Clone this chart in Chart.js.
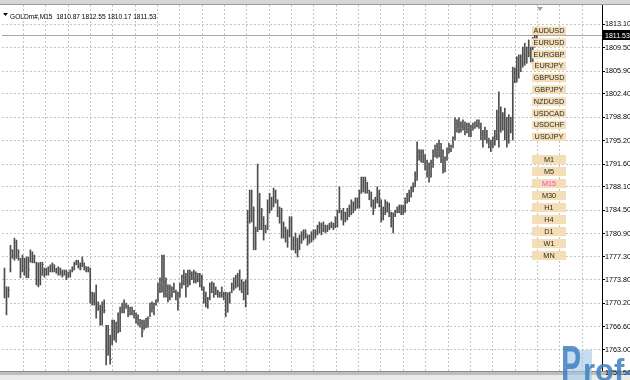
<!DOCTYPE html>
<html><head><meta charset="utf-8">
<script src="https://cdn.jsdelivr.net/npm/chart.js@4.4.1/dist/chart.umd.min.js"></script>
<style>html,body{margin:0;padding:0;background:#fff;overflow:hidden}#wrap{width:630px;height:380px;position:relative}</style>
</head><body><div id="wrap"><canvas id="c" width="630" height="380"></canvas></div>
<script>
const symbolName = 'GOLDm#';
const timeframe = 'M15';
const priceTicks = [1813.10,1809.50,1805.90,1802.40,1798.80,1795.20,1791.60,1788.10,1784.50,1780.90,1777.30,1773.80,1770.20,1766.60,1763.00,1759.50];
const symbols = ['AUDUSD','EURUSD','EURGBP','EURJPY','GBPUSD','GBPJPY','NZDUSD','USDCAD','USDCHF','USDJPY'];
const timeframes = ['M1','M5','M15','M30','H1','H4','D1','W1','MN'];

const highs = [1775.6,1772.7,1772.7,1779.1,1778.4,1780.2,1779.9,1778.4,1777.1,1777.6,
1777.1,1777.3,1777.3,1778.4,1778.1,1777.6,1776.5,1776.4,1776.5,1776.5,
1775.6,1775.6,1775.8,1776.1,1776.4,1776.1,1775.6,1775.8,1775.6,1775.3,
1775.3,1775.3,1775.0,1775.3,1775.8,1776.5,1776.8,1776.8,1776.4,1777.3,
1776.4,1775.8,1775.8,1775.6,1771.9,1771.8,1773.0,1770.4,1769.9,1770.4,
1770.7,1766.8,1766.8,1765.3,1767.6,1767.6,1767.3,1768.7,1769.6,1770.2,
1770.7,1770.2,1769.9,1769.6,1769.6,1769.1,1768.7,1768.4,1767.7,1767.6,
1767.6,1767.9,1768.1,1770.2,1770.4,1770.2,1770.7,1773.3,1774.1,1777.6,
1777.6,1774.1,1773.0,1773.0,1772.7,1773.3,1772.2,1771.9,1773.3,1774.5,
1775.3,1774.8,1775.3,1775.3,1775.0,1775.3,1775.0,1774.8,1774.8,1774.5,
1772.7,1771.9,1771.1,1773.3,1773.5,1773.3,1772.7,1772.2,1771.9,1772.7,
1771.9,1771.9,1771.8,1771.9,1773.3,1774.1,1774.5,1774.8,1775.3,1773.8,
1773.5,1773.8,1784.5,1787.6,1787.6,1785.0,1781.9,1791.6,1787.1,1784.8,
1783.5,1782.2,1786.1,1787.1,1786.5,1787.9,1787.6,1786.1,1785.0,1784.8,
1782.7,1781.9,1781.5,1783.5,1783.5,1780.4,1781.0,1780.2,1780.7,1781.2,
1781.5,1781.5,1780.7,1780.7,1781.2,1781.5,1781.5,1782.2,1782.7,1782.5,
1782.7,1782.2,1782.2,1782.5,1782.7,1782.5,1783.5,1784.5,1788.1,1784.5,
1784.8,1784.2,1784.8,1785.3,1786.1,1785.8,1786.4,1786.4,1787.6,1789.6,
1789.6,1789.6,1788.8,1787.6,1787.3,1786.1,1786.5,1788.1,1787.6,1786.1,
1785.0,1786.1,1785.8,1785.6,1784.2,1784.1,1784.5,1785.0,1785.3,1785.3,
1785.3,1786.4,1787.1,1787.6,1788.1,1788.7,1790.4,1795.0,1793.8,1793.8,
1793.8,1793.0,1792.2,1791.8,1792.2,1793.8,1794.5,1794.8,1795.3,1794.8,
1793.8,1792.7,1794.1,1794.8,1794.5,1795.8,1798.7,1798.4,1798.7,1798.1,
1798.4,1798.1,1797.9,1797.9,1797.6,1797.9,1798.1,1798.4,1798.4,1797.9,
1796.8,1797.3,1796.8,1795.6,1795.3,1795.8,1796.8,1799.9,1802.7,1800.4,
1799.5,1800.2,1798.8,1799.2,1798.8,1806.5,1806.4,1808.1,1808.4,1808.4,
1809.6,1810.2,1809.6,1810.7,1809.6,1811.1,1811.9,1812.55];

const lows = [1771.0,1768.4,1771.1,1775.0,1777.1,1776.8,1777.1,1776.8,1774.1,1775.0,
1774.5,1774.1,1774.1,1776.5,1776.4,1776.4,1773.0,1772.7,1773.0,1774.5,
1774.2,1774.5,1774.5,1775.0,1775.0,1775.0,1774.8,1774.5,1774.5,1774.2,
1774.5,1773.8,1774.2,1774.2,1775.0,1775.3,1776.1,1775.6,1775.3,1775.8,
1775.3,1775.0,1775.0,1770.2,1769.9,1769.9,1767.9,1769.1,1766.8,1766.8,
1768.7,1760.7,1762.2,1760.8,1763.8,1764.5,1764.2,1765.6,1765.8,1768.7,
1768.7,1769.4,1768.1,1768.4,1768.4,1767.9,1767.1,1766.8,1766.5,1765.0,
1766.1,1766.4,1766.5,1768.1,1768.8,1768.4,1769.9,1770.4,1771.8,1771.9,
1771.1,1771.1,1770.4,1770.7,1771.1,1771.8,1770.7,1769.1,1771.1,1772.5,
1773.0,1771.1,1772.7,1773.0,1773.8,1773.3,1773.3,1773.5,1772.7,1772.2,
1770.2,1769.6,1769.4,1770.7,1771.8,1771.1,1771.5,1771.1,1771.1,1771.1,
1770.7,1768.1,1768.8,1770.2,1771.8,1772.2,1772.5,1772.7,1772.2,1771.8,
1770.7,1769.6,1771.5,1782.5,1782.7,1778.4,1778.4,1781.2,1781.5,1781.5,
1779.9,1781.0,1781.5,1784.1,1784.5,1785.0,1785.6,1783.5,1782.5,1780.2,
1780.2,1779.6,1778.8,1780.4,1778.4,1778.4,1777.9,1777.3,1778.4,1779.4,
1779.9,1780.2,1779.1,1779.4,1779.6,1779.9,1780.2,1780.7,1781.0,1780.7,
1781.2,1781.0,1781.2,1781.5,1781.8,1781.5,1781.8,1781.9,1784.1,1783.0,
1782.2,1782.7,1783.0,1783.5,1783.8,1784.1,1784.5,1784.8,1784.8,1787.1,
1787.3,1787.1,1787.1,1786.1,1785.0,1783.8,1784.8,1785.6,1785.0,1782.7,
1783.0,1783.8,1784.2,1783.5,1781.9,1781.0,1783.5,1784.1,1784.1,1783.8,
1783.8,1784.2,1785.6,1785.8,1786.5,1787.3,1788.1,1789.1,1792.2,1791.9,
1791.8,1790.7,1789.6,1788.8,1789.6,1791.1,1792.7,1792.5,1792.7,1791.8,
1790.2,1790.4,1792.2,1793.3,1793.5,1794.1,1795.3,1796.5,1796.4,1796.5,
1796.8,1796.1,1796.4,1795.8,1795.8,1796.8,1797.1,1797.3,1797.1,1795.3,
1794.2,1795.3,1794.8,1794.1,1793.5,1794.1,1794.5,1795.3,1794.2,1796.5,
1796.8,1795.3,1794.2,1794.8,1796.4,1795.3,1804.1,1804.2,1804.8,1805.8,
1806.5,1806.8,1807.1,1808.1,1807.3,1807.1,1809.6,1810.17];

const opens = [1773.8,1772.2,1771.5,1775.3,1778.1,1777.6,1779.6,1778.4,1777.1,1775.3,
1776.5,1775.6,1776.5,1776.8,1777.9,1777.1,1776.4,1773.8,1775.6,1774.8,
1775.6,1774.8,1775.3,1775.6,1775.8,1776.1,1775.3,1775.0,1775.6,1774.8,
1774.5,1775.0,1774.2,1774.8,1775.3,1775.6,1776.4,1776.5,1776.1,1775.8,
1776.4,1775.8,1775.3,1775.6,1771.0,1770.2,1771.1,1769.4,1769.9,1767.6,
1769.9,1766.4,1763.0,1764.5,1764.5,1766.8,1766.1,1766.8,1768.1,1769.1,
1769.9,1770.2,1769.6,1768.7,1769.1,1768.8,1768.1,1767.6,1767.3,1766.8,
1766.1,1767.3,1766.8,1768.4,1769.9,1769.1,1769.9,1770.7,1772.7,1773.3,
1773.0,1773.8,1771.9,1772.2,1771.9,1772.2,1772.2,1771.1,1771.1,1772.7,
1773.8,1774.5,1773.0,1774.5,1774.1,1774.5,1774.1,1774.5,1774.1,1773.3,
1772.5,1771.0,1770.4,1770.7,1772.7,1772.2,1771.9,1772.2,1771.5,1771.8,
1771.9,1771.1,1769.1,1771.0,1771.9,1773.0,1773.8,1773.3,1774.2,1773.0,
1772.7,1771.5,1772.2,1783.8,1786.1,1784.5,1779.9,1781.2,1786.1,1782.7,
1783.5,1781.2,1781.8,1785.3,1786.4,1785.3,1787.3,1785.8,1784.2,1783.3,
1781.5,1781.9,1780.4,1780.7,1782.7,1779.9,1779.1,1779.9,1778.4,1779.9,
1780.7,1781.0,1780.4,1779.6,1780.4,1780.7,1781.2,1781.0,1781.8,1782.2,
1781.5,1782.2,1781.5,1781.9,1782.2,1782.5,1781.9,1783.0,1784.2,1784.5,
1783.5,1784.2,1783.3,1784.5,1785.0,1785.6,1785.0,1785.8,1786.1,1787.3,
1788.8,1787.9,1788.8,1787.6,1786.5,1785.6,1784.8,1786.1,1787.6,1786.1,
1783.8,1784.5,1785.3,1784.8,1784.1,1782.7,1783.8,1784.2,1784.8,1784.5,
1785.0,1784.5,1786.1,1786.5,1787.3,1787.6,1788.4,1789.6,1793.8,1793.0,
1792.5,1792.7,1791.5,1790.4,1789.9,1791.5,1793.0,1794.1,1793.5,1794.5,
1792.5,1791.5,1792.5,1793.5,1794.2,1794.2,1795.3,1797.6,1797.1,1798.1,
1797.1,1797.9,1796.8,1797.3,1796.4,1797.1,1797.6,1797.9,1798.1,1797.6,
1795.8,1795.3,1796.5,1795.3,1794.5,1794.1,1795.3,1796.4,1799.2,1796.8,
1799.5,1797.6,1798.8,1795.3,1798.4,1796.5,1805.3,1804.5,1807.3,1806.1,
1807.9,1809.1,1807.6,1809.1,1809.6,1808.1,1810.2,1810.87];

const closes = [1772.2,1771.5,1772.2,1778.4,1777.6,1779.6,1778.4,1777.1,1775.3,1776.5,
1775.6,1776.8,1775.3,1777.9,1777.1,1776.5,1773.8,1775.6,1774.5,1776.1,
1774.8,1775.3,1775.6,1775.8,1776.1,1775.3,1775.0,1775.6,1774.8,1774.5,
1775.0,1774.2,1774.8,1775.3,1775.6,1776.4,1776.5,1776.1,1775.6,1776.8,
1775.8,1775.3,1775.6,1771.0,1770.2,1771.1,1769.1,1769.9,1767.6,1769.9,
1769.1,1762.2,1766.1,1761.5,1766.8,1766.1,1766.8,1768.1,1769.1,1769.9,
1770.2,1769.6,1768.7,1769.1,1768.8,1768.1,1767.6,1767.3,1766.8,1765.8,
1767.3,1766.8,1767.9,1769.9,1769.1,1769.9,1770.4,1772.7,1773.3,1773.0,
1773.8,1771.9,1772.2,1771.9,1772.2,1772.7,1771.1,1770.7,1772.7,1773.8,
1774.8,1773.0,1774.5,1774.1,1774.5,1774.1,1774.5,1774.1,1773.3,1772.5,
1771.0,1770.4,1770.7,1772.7,1772.2,1771.9,1772.2,1771.5,1771.8,1772.2,
1771.1,1769.1,1771.0,1771.5,1773.0,1773.8,1773.3,1774.2,1773.0,1772.7,
1771.5,1772.2,1783.8,1786.1,1784.5,1779.9,1781.2,1786.1,1782.7,1783.8,
1780.7,1781.8,1785.3,1786.4,1785.3,1787.3,1786.1,1784.2,1783.3,1781.5,
1781.9,1780.4,1779.6,1782.7,1779.9,1779.1,1779.9,1778.1,1779.9,1780.7,
1781.0,1780.7,1779.6,1780.4,1780.7,1781.2,1780.7,1781.8,1782.2,1781.5,
1782.2,1781.5,1781.9,1782.2,1782.5,1781.9,1783.0,1784.1,1784.8,1783.5,
1784.2,1783.3,1784.5,1785.0,1785.6,1785.0,1785.8,1786.1,1787.1,1788.8,
1787.9,1789.1,1787.6,1786.5,1785.6,1784.5,1786.1,1787.6,1786.1,1783.8,
1784.5,1785.3,1784.8,1784.1,1782.7,1783.8,1784.2,1784.8,1784.5,1785.0,
1784.2,1786.1,1786.5,1787.3,1787.6,1788.4,1789.6,1793.8,1793.0,1792.5,
1793.0,1791.5,1790.4,1789.6,1791.5,1793.0,1794.1,1793.5,1794.5,1792.5,
1791.5,1792.2,1793.5,1794.2,1794.1,1795.3,1797.6,1797.1,1798.1,1797.1,
1797.9,1796.8,1797.3,1796.4,1797.1,1797.6,1797.9,1798.1,1797.6,1795.8,
1795.0,1796.5,1795.3,1794.5,1794.1,1795.3,1796.4,1799.2,1795.3,1799.5,
1797.6,1799.2,1795.3,1798.4,1796.8,1805.3,1804.5,1807.3,1805.8,1807.9,
1809.1,1807.6,1809.1,1809.9,1808.1,1810.2,1810.9,1811.53];

const BAR_COLOR = '#4e4e4e';
const TICK_COLOR = '#8a8a8a';
const FONT = '"Liberation Sans", Arial, sans-serif';
Chart.defaults.font.family = FONT;

function tickImg(left) {
  const c = document.createElement('canvas');
  c.width = 3; c.height = 1;
  const g = c.getContext('2d');
  g.fillStyle = TICK_COLOR;
  g.fillRect(left ? 0 : 2, 0, 1, 1);
  return c;
}
const openImg = tickImg(true), closeImg = tickImg(false);

const overlay = {
  id: 'overlay',
  beforeDraw(chart) {
    const ctx = chart.ctx;
    ctx.save(); ctx.fillStyle = '#fff'; ctx.fillRect(0, 0, chart.width, chart.height); ctx.restore();
  },
  beforeDatasetsDraw(chart) {
    const ctx = chart.ctx, a = chart.chartArea, ya = chart.scales.y;
    const last = closes[closes.length - 1];
    const py = Math.round(ya.getPixelForValue(last)) + 0.5;
    ctx.save();
    ctx.strokeStyle = '#a8a8a8'; ctx.lineWidth = 1;
    ctx.beginPath(); ctx.moveTo(a.left, py); ctx.lineTo(a.right, py); ctx.stroke();
    ctx.fillStyle = '#8c8c8c'; ctx.fillRect(0, 371, 630, 1);
    ctx.fillStyle = '#bdbdbd'; ctx.fillRect(0, 372, 630, 3);
    ctx.fillStyle = '#ececec'; ctx.fillRect(0, 375, 630, 5);
    ctx.restore();
  },
  afterDraw(chart) {
    const ctx = chart.ctx, a = chart.chartArea, ya = chart.scales.y;
    const n = closes.length - 1, last = closes[n];
    ctx.save();
    ctx.fillStyle = '#d6d6d6'; ctx.fillRect(0, 0, 630, 4);
    ctx.fillStyle = '#9c9c9c'; ctx.fillRect(0, 4, 630, 1);
    ctx.fillStyle = '#a0a0a0';
    ctx.beginPath(); ctx.moveTo(537, 7); ctx.lineTo(543, 7); ctx.lineTo(540, 11); ctx.closePath(); ctx.fill();
    const py = Math.round(ya.getPixelForValue(last)) + 0.5;
    ctx.fillStyle = '#000'; ctx.fillRect(a.right + 1, py - 5.5, 30, 10);
    ctx.fillStyle = '#fff'; ctx.font = '7px ' + FONT; ctx.textBaseline = 'middle'; ctx.textAlign = 'left';
    ctx.fillText(last.toFixed(2), a.right + 3, py + 0.5);
    ctx.fillStyle = '#000';
    ctx.beginPath(); ctx.moveTo(3, 13); ctx.lineTo(8, 13); ctx.lineTo(5.5, 16); ctx.closePath(); ctx.fill();
    ctx.font = '6.6px ' + FONT; ctx.textBaseline = 'alphabetic';
    const t = symbolName + ',' + timeframe + '  ' + opens[n].toFixed(2) + ' ' + highs[n].toFixed(2) + ' ' + lows[n].toFixed(2) + ' ' + last.toFixed(2);
    ctx.fillText(t, 10, 18.5);
    ctx.font = '7.3px ' + FONT; ctx.textAlign = 'center'; ctx.textBaseline = 'middle';
    symbols.forEach((s, i) => {
      const y0 = 26.5 + i * 11.78;
      ctx.fillStyle = '#f4deb6'; ctx.fillRect(532, y0, 34, 8.5);
      ctx.fillStyle = '#2a2a2a'; ctx.fillText(s, 549, y0 + 4.6);
    });
    timeframes.forEach((s, i) => {
      const y0 = 155 + i * 12;
      ctx.fillStyle = '#f4deb6'; ctx.fillRect(532, y0, 34, 9);
      ctx.fillStyle = s === timeframe ? '#ff3fc8' : '#2a2a2a'; ctx.fillText(s, 549, y0 + 4.8);
    });
    // watermark
    ctx.textAlign = 'left'; ctx.textBaseline = 'alphabetic';
    ctx.fillStyle = 'rgba(160,198,230,0.6)'; ctx.fillRect(566, 350, 26, 30);
    ctx.fillStyle = 'rgba(62,128,190,0.85)';
    ctx.save(); ctx.translate(561, 381); ctx.scale(1, 1.65);
    ctx.font = 'bold 30px ' + FONT; ctx.fillText('P', 0, 0);
    ctx.restore();
    ctx.font = 'bold 31px ' + FONT; ctx.fillText('rof-FX', 583, 381);
    ctx.restore();
  }
};

const idx = highs.map((_, i) => i);
const gridStart = 9.6, gridStep = 11.205;

new Chart(document.getElementById('c'), {
  data: {
    datasets: [
      { type: 'line', data: idx.map(i => ({ x: i, y: opens[i] })), showLine: false,
        pointStyle: openImg, pointRadius: 1, pointHoverRadius: 1, order: 1 },
      { type: 'line', data: idx.map(i => ({ x: i, y: closes[i] })), showLine: false,
        pointStyle: closeImg, pointRadius: 1, pointHoverRadius: 1, order: 1 },
      { type: 'bar', data: idx.map(i => ({ x: i, y: [lows[i], highs[i]] })),
        backgroundColor: BAR_COLOR, borderWidth: 0, barThickness: 1, grouped: false, order: 2 }
    ]
  },
  options: {
    responsive: false, devicePixelRatio: 1, animation: false, events: [],
    layout: { padding: { top: 5, bottom: 9, left: 0, right: 0 } },
    plugins: { legend: { display: false }, tooltip: { enabled: false } },
    scales: {
      x: {
        type: 'linear', min: -1.25, max: 299.75, offset: false,
        ticks: { display: false },
        grid: { color: '#c4c4c4', drawTicks: false, lineWidth: 1, offset: false },
        border: { display: false, dash: [2, 2] },
        afterBuildTicks: s => { const t = []; for (let k = 0; k < 26; k++) t.push({ value: gridStart + k * gridStep }); s.ticks = t; },
        afterFit: s => { s.height = 0; }
      },
      y: {
        type: 'linear', position: 'right', min: 1759.76, max: 1816.07,
        ticks: { autoSkip: false, padding: 0, color: '#000', font: { size: 7.2, family: FONT }, z: 1,
          callback: v => Number(v).toFixed(2) },
        grid: { color: '#c4c4c4', tickColor: '#000', tickLength: 3, tickBorderDash: [] },
        border: { display: true, color: '#000', width: 1, dash: [2, 2] },
        afterBuildTicks: s => { s.ticks = priceTicks.map(v => ({ value: v })); },
        afterFit: s => { s.width = 28; }
      }
    }
  },
  plugins: [overlay]
});
</script></body></html>
